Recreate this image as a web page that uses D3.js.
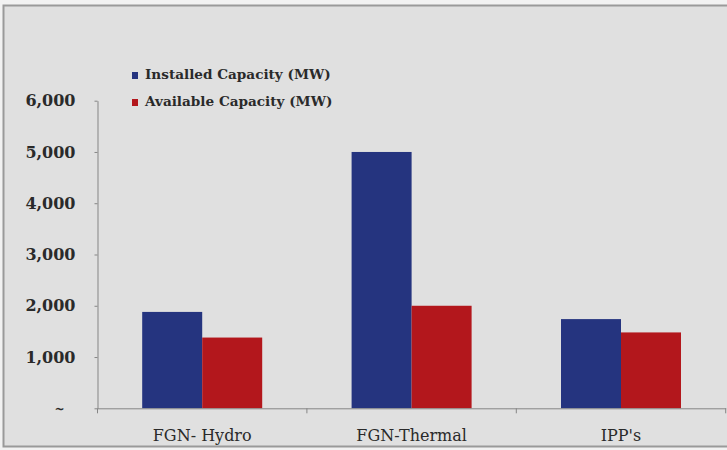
<!DOCTYPE html>
<html>
<head>
<meta charset="utf-8">
<script src="https://cdn.jsdelivr.net/npm/d3@7"></script>
<style>
  html, body { margin: 0; padding: 0; background: #f2f2f2; }
  svg { display: block; }
  text { font-family: "DejaVu Serif", "Liberation Serif", serif; fill: #2a2a2a; }
</style>
</head>
<body>
<svg id="chart" width="727" height="450"></svg>
<script>
// Power generation capacity by owner group
const categories = ["FGN- Hydro", "FGN-Thermal", "IPP's"];
const seriesNames = ["Installed Capacity (MW)", "Available Capacity (MW)"];
const installed = [1880, 5000, 1740];
const available = [1380, 2000, 1480];
const yTicks = [0, 1000, 2000, 3000, 4000, 5000, 6000];

const colors = ["#25347f", "#b3171c"];
const seriesValues = [installed, available];

const svg = d3.select("#chart");

// framed panel
svg.append("rect")
  .attr("x", 3.5).attr("y", 5.5)
  .attr("width", 740).attr("height", 441)
  .attr("fill", "#e0e0e0")
  .attr("stroke", "#9a9a9a")
  .attr("stroke-width", 2);

const plot = { left: 97.5, right: 725.7, top: 100.7, bottom: 408.3 };

const x0 = d3.scaleBand()
  .domain(categories)
  .range([plot.left, plot.right])
  .paddingInner(0).paddingOuter(0);

const groupGap = 44.7;
const x1 = d3.scaleBand()
  .domain(d3.range(seriesNames.length))
  .range([groupGap, x0.bandwidth() - groupGap])
  .padding(0);

const y = d3.scaleLinear()
  .domain([0, 6000])
  .range([plot.bottom, plot.top]);

// bars
const groups = svg.append("g")
  .selectAll("g")
  .data(categories)
  .join("g")
  .attr("transform", c => `translate(${x0(c)},0)`);

groups.selectAll("rect")
  .data((c, i) => seriesValues.map((vals, s) => ({ s, v: vals[i] })))
  .join("rect")
  .attr("x", d => x1(d.s))
  .attr("width", x1.bandwidth())
  .attr("y", d => y(d.v))
  .attr("height", d => y(0) - y(d.v))
  .attr("fill", d => colors[d.s]);

// y axis
const yAxis = svg.append("g")
  .attr("transform", `translate(${plot.left},0)`)
  .call(d3.axisLeft(y)
    .tickValues(yTicks)
    .tickSize(3)
    .tickSizeOuter(0)
    .tickPadding(19)
    .tickFormat(v => v === 0 ? "~" : d3.format(",")(v)));
yAxis.select(".domain").attr("stroke", "#858585");
yAxis.selectAll(".tick line").attr("stroke", "#858585");
yAxis.selectAll(".tick text")
  .attr("font-family", "DejaVu Serif, serif")
  .attr("font-size", 16)
  .attr("font-weight", "bold")
  .attr("fill", "#3a3a3a");
yAxis.selectAll(".tick text")
  .filter(v => v === 0)
  .attr("x", -33)
  .attr("font-size", 12);

// x axis
const xAxis = svg.append("g")
  .attr("transform", `translate(0,${plot.bottom})`)
  .call(d3.axisBottom(x0).tickSize(0).tickPadding(21).tickSizeOuter(0));
xAxis.select(".domain").attr("stroke", "#858585");
xAxis.selectAll(".tick text")
  .attr("font-family", "DejaVu Serif, serif")
  .attr("font-size", 16)
  .attr("fill", "#1e1e1e");

// category boundary ticks
const bounds = categories.map(c => x0(c)).concat([x0(categories[categories.length - 1]) + x0.step()]);
xAxis.selectAll("line.bound")
  .data(bounds)
  .join("line")
  .attr("class", "bound")
  .attr("x1", d => d).attr("x2", d => d)
  .attr("y1", 0).attr("y2", 5)
  .attr("stroke", "#858585");

// legend
const legend = svg.append("g")
  .selectAll("g")
  .data(seriesNames)
  .join("g")
  .attr("transform", (d, i) => `translate(132,${79 + i * 27})`);
legend.append("rect")
  .attr("x", 0).attr("y", -7)
  .attr("width", 6).attr("height", 7)
  .attr("fill", (d, i) => colors[i]);
legend.append("text")
  .attr("x", 13).attr("y", 0)
  .attr("font-size", 13.6)
  .attr("font-weight", "bold")
  .attr("fill", "#222")
  .text(d => d);
</script>
</body>
</html>
